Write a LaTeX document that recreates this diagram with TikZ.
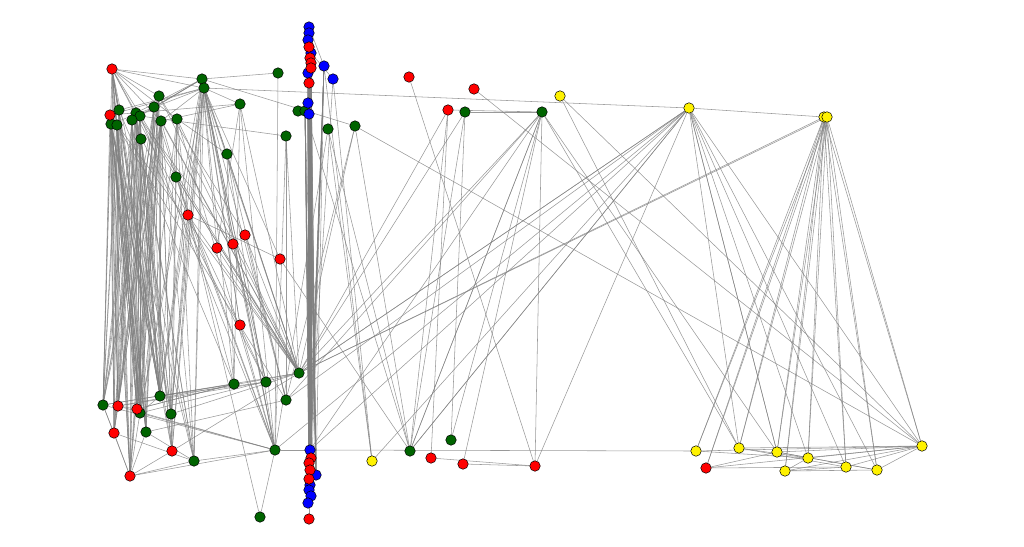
\documentclass[tikz,border=0pt]{standalone}
\usetikzlibrary{backgrounds}

\definecolor{darkgreen}{RGB}{0,100,0}

\tikzset{
    vertex/.style={circle, draw=black, line width=0.5pt, inner sep=0pt, minimum size=10.5pt},
    rnode/.style={vertex, fill=red},
    gnode/.style={vertex, fill=darkgreen},
    bnode/.style={vertex, fill=blue},
    ynode/.style={vertex, fill=yellow},
    link/.style={draw=gray, line width=0.55pt, opacity=0.8}
}

\begin{document}
\begin{tikzpicture}[x=1pt, y=-1pt, line cap=round]

    \useasboundingbox (0,0) rectangle (1024,546);

    % sommets verts
    \foreach \n/\x/\y in {g1/202/79, g2/204/88, g3/278/73, g4/159/96, g5/154/107, g6/119/110, g7/111/124, g8/117/125,
        g9/136/113, g10/140/116, g11/132/120, g12/161/121, g13/177/119, g14/240/104, g15/141/139, g16/286/136,
        g17/227/154, g18/176/177, g19/298/111, g20/305/111, g21/328/129, g22/355/126, g23/465/112, g24/542/112,
        g25/103/405, g26/140/413, g27/160/396, g28/171/414, g29/146/432, g30/194/461, g31/234/384, g32/266/382,
        g33/299/373, g34/286/400, g35/275/450, g36/260/517, g37/410/451, g38/451/440} {
        \node[gnode] (\n) at (\x,\y) {};
    }

    % colonne bleue
    \foreach \n/\x/\y in {b1/309/27, b2/309/33, b3/308/40, b4/311/53, b5/308/73, b6/324/66, b7/333/79, b8/308/103,
        b9/309/114, b10/310/450, b11/316/475, b15/310/485, b12/309/490, b13/311/496, b14/308/503} {
        \node[bnode] (\n) at (\x,\y) {};
    }

    % sommets rouges
    \foreach \n/\x/\y in {r1/112/69, r2/110/115, r3/188/215, r4/217/248, r5/233/244, r6/245/235, r7/280/259,
        r8/240/325, r9/409/77, r10/474/89, r11/448/110, r12/118/406, r13/137/409, r14/114/433, r15/172/451,
        r16/130/476, r17/431/458, r18/463/464, r19/535/466, r20/706/468,
        r21/309/47, r22/310/58, r23/311/63, r24/311/68, r25/309/83,
        r26/311/458, r27/309/463, r30/310/470, r28/309/479, r29/309/519} {
        \node[rnode] (\n) at (\x,\y) {};
    }

    % sommets jaunes
    \foreach \n/\x/\y in {y1/560/96, y2/689/108, y3/824/117, y4/827/117, y5/372/461, y6/696/451, y7/739/448,
        y8/777/452, y9/808/458, y10/785/471, y11/846/467, y12/877/470, y13/922/446} {
        \node[ynode] (\n) at (\x,\y) {};
    }

    \begin{scope}[on background layer]

        % bloc dense a gauche
        \foreach \a in {r1,r2,g4,g5,g6,g7,g8,g9,g10,g11,g12} {
            \foreach \b in {g25,r12,r13,g26,r14,g29,r16,g27} {
                \draw[link] (\a) -- (\b);
            }
        }
        \foreach \a in {r1,g7,g9,g12,g13,g15,g1,g2} {
            \foreach \b in {g27,g28,r15,g30,g26} {
                \draw[link] (\a) -- (\b);
            }
        }

        % colonne
        \foreach \a in {b1,b2,b3,r21,b4,r22,r23,r24,b5,r25,b8,b9,g20,b6} {
            \foreach \b in {b10,r26,r27,r30,b11,r28,b15,b12,b13} {
                \draw[link] (\a) -- (\b);
            }
        }

        % hubs du milieu gauche
        \foreach \a in {r1,r2,g1,g2,g4,g5,g9,g12,g13,g14,g16,g17,g18,r3,r4,r6,g22,g25,r12,g26,g28,r15}
            \draw[link] (\a) -- (g33);
        \foreach \a in {g1,g2,g3,g10,g13,g14,g16,g17,g18,r3,r5,r8,g21,g25,r12,g26,g30,r16,g36,b10}
            \draw[link] (\a) -- (g35);
        \foreach \a in {g1,g16,g17,r2,g22,g29,r6}
            \draw[link] (\a) -- (g34);
        \foreach \a in {g1,g6,g14,g17,r3,g25,r13,g27}
            \draw[link] (\a) -- (g31);
        \foreach \a in {g1,g2,g11,r3,r5,r12,g27}
            \draw[link] (\a) -- (g32);

        % haut gauche
        \foreach \a/\b in {r1/g1, r1/g2, r1/g4, r1/g6, r1/g9, r1/g12, r1/g13, g1/g2, g1/g3, g1/g5, g1/g9,
            g1/g10, g1/g11, g2/g6, g2/g12, g2/r2, g2/g7, g2/g14, g1/g22, r2/g14, g10/g16, g12/g14, g2/g17,
            g13/g17, g5/r3, g12/r3, r1/r3, g13/r3, g1/r4, g2/r5, g4/r6, g2/r7, g1/r8, g2/r8, r3/r7, r3/g36,
            r3/g27, r3/g28, g14/r4, g9/r5, g19/b8, g20/b9, b6/b1, b7/b4, b13/b10, b14/r26, r29/b12}
            \draw[link] (\a) -- (\b);

        % bas gauche
        \foreach \a/\b in {g25/r14, g25/r16, r14/r16, g29/r16, g26/r16, r15/r16, g30/r16, r15/g28, r12/r13,
            g27/g26, g29/g30, r14/g30, r13/g31}
            \draw[link] (\a) -- (\b);

        % milieu
        \foreach \a/\b in {g21/g37, g22/g37, g20/g37, r11/g37, g23/g37, g24/g37, g24/g37, y2/g37, y2/g37,
            g23/g38, g24/g38, r11/r17, r17/r19, r18/r19, g24/r18, r9/r19, g24/r19, y2/r19, g23/g24, r11/g24,
            y1/y7, y1/y13, r10/y13, g22/y13, g24/y8, g24/y7, g2/y2, y2/y3, y3/g33, y4/g33, y2/g33, y2/g33,
            y2/g35, y2/b10, y2/g34, g24/g33, g24/b10, g24/g34, g23/g33, r11/g33, b6/y5, b7/y5, g21/y5, y2/y5,
            b7/b10, b10/y6, r7/g37}
            \draw[link] (\a) -- (\b);

        % droite
        \foreach \b in {y6,r20,y7,y8,y9,y10,y11,y12,y13} {
            \draw[link] (y3) -- (\b);
            \draw[link] (y4) -- (\b);
        }
        \foreach \b in {y7,y8,y8,y9,y11,y12,y13}
            \draw[link] (y2) -- (\b);
        \foreach \a/\b in {y6/y13, y7/y13, y8/y13, y9/y13, y10/y13, y11/y13, y12/y13, r20/y13, r20/y11,
            r20/y8, y7/y11, y8/y12, y8/y12, y9/y10, y7/y9, y10/y11, y6/y9, y10/y12}
            \draw[link] (\a) -- (\b);

    \end{scope}

\end{tikzpicture}
\end{document}
